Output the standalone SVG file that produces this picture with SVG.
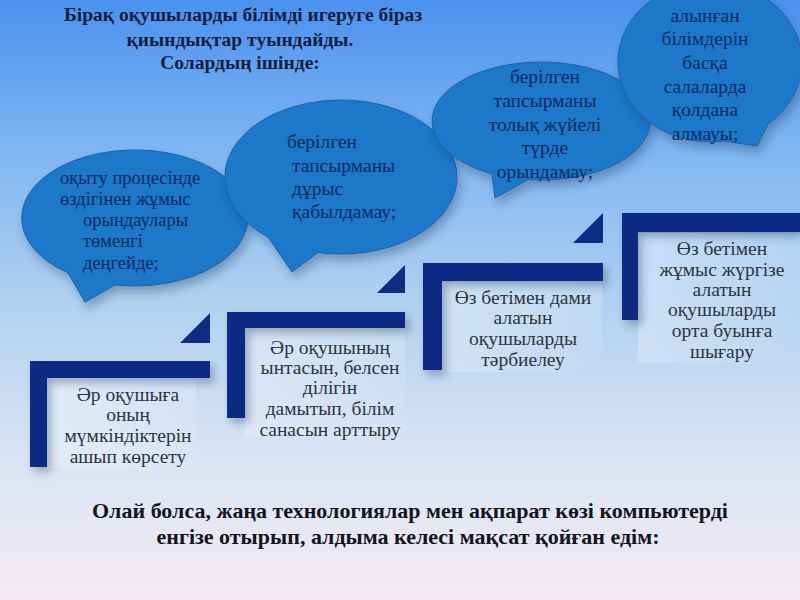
<svg xmlns="http://www.w3.org/2000/svg" width="800" height="600" viewBox="0 0 800 600">
  <defs>
    <linearGradient id="bg" x1="0" y1="0" x2="0" y2="1">
      <stop offset="0" stop-color="#4a92ee"/>
      <stop offset="0.25" stop-color="#7fb6f2"/>
      <stop offset="0.5" stop-color="#b0d0f0"/>
      <stop offset="0.75" stop-color="#d8e4f4"/>
      <stop offset="1" stop-color="#f4eaf2"/>
    </linearGradient>
    <linearGradient id="panel" x1="0" y1="0" x2="1" y2="1">
      <stop offset="0" stop-color="#ffffff" stop-opacity="0.45"/>
      <stop offset="1" stop-color="#ffffff" stop-opacity="0"/>
    </linearGradient>
    <filter id="sh" x="-20%" y="-20%" width="150%" height="150%">
      <feDropShadow dx="3" dy="6" stdDeviation="5" flood-color="#1a3050" flood-opacity="0.35"/>
    </filter>
    <filter id="shs" x="-20%" y="-20%" width="150%" height="150%">
      <feDropShadow dx="4" dy="5" stdDeviation="4" flood-color="#1a3050" flood-opacity="0.35"/>
    </filter>
  </defs>
  <style>
    .bubble { fill: #1e78c8; stroke: #1a62a8; stroke-width: 1; filter: url(#sh); }
    .bar { fill: #0e2c84; filter: url(#shs); }
    .tri { fill: #0e2c84; }
    .btxt { font-family: "Liberation Serif", "DejaVu Serif", serif; font-size: 19.5px; fill: #0f2a5e; }
    .b1 { font-size: 18.5px; }
    .stxt { font-family: "Liberation Serif", "DejaVu Serif", serif; font-size: 19.5px; fill: #2c3440; text-anchor: middle; }
    .title { font-family: "Liberation Serif", "DejaVu Serif", serif; font-weight: bold; font-size: 19.5px; fill: #141c40; text-anchor: middle; }
    .foot { font-family: "Liberation Serif", "DejaVu Serif", serif; font-weight: bold; font-size: 22px; fill: #141420; text-anchor: middle; }
  </style>

  <rect x="0" y="0" width="800" height="600" fill="url(#bg)"/>

  <g id="title">
    <text class="title" x="243" y="21">Бірақ оқушыларды білімді игеруге біраз</text>
    <text class="title" x="240" y="46">қиындықтар туындайды.</text>
    <text class="title" x="240" y="69">Солардың ішінде:</text>
  </g>

  <g id="step1">
    <rect x="46" y="378" width="150" height="90" fill="url(#panel)"/>
    <path class="bar" d="M30,361 H210 V378 H47 V467 H30 Z"/>
    <polygon class="tri" points="210,313 210,343 180,343"/>
    <text class="stxt" x="128" y="401">Әр оқушыға</text>
    <text class="stxt" x="128" y="421">оның</text>
    <text class="stxt" x="128" y="442">мүмкіндіктерін</text>
    <text class="stxt" x="128" y="463">ашып көрсету</text>
  </g>

  <g id="step2">
    <rect x="245" y="327" width="160" height="110" fill="url(#panel)"/>
    <path class="bar" d="M227,312 H405 V328 H245 V418 H227 Z"/>
    <polygon class="tri" points="405,265 405,293 377,293"/>
    <text class="stxt" x="330" y="354">Әр оқушының</text>
    <text class="stxt" x="330" y="374">ынтасын, белсен</text>
    <text class="stxt" x="330" y="394">ділігін</text>
    <text class="stxt" x="330" y="415">дамытып, білім</text>
    <text class="stxt" x="330" y="436">санасын арттыру</text>
  </g>

  <g id="step3">
    <rect x="442" y="282" width="160" height="90" fill="url(#panel)"/>
    <path class="bar" d="M423,263 H603 V281 H442 V370 H423 Z"/>
    <polygon class="tri" points="603,213 603,243 573,243"/>
    <text class="stxt" x="523" y="304">Өз бетімен дами</text>
    <text class="stxt" x="523" y="324">алатын</text>
    <text class="stxt" x="523" y="345">оқушыларды</text>
    <text class="stxt" x="523" y="366">тәрбиелеу</text>
  </g>

  <g id="step4">
    <rect x="638" y="233" width="162" height="130" fill="url(#panel)"/>
    <path class="bar" d="M622,213 H800 V232 H638 V320 H622 Z"/>
    <text class="stxt" x="722" y="255">Өз бетімен</text>
    <text class="stxt" x="722" y="276">жұмыс жүргізе</text>
    <text class="stxt" x="722" y="296">алатын</text>
    <text class="stxt" x="722" y="316">оқушыларды</text>
    <text class="stxt" x="722" y="337">орта буынға</text>
    <text class="stxt" x="722" y="358">шығару</text>
  </g>

  <g id="bubble1">
    <path class="bubble" d="M68,272.8 A113,68 0 1 1 115,284.9 L85,302 Z"/>
    <text class="btxt b1" x="60" y="184">оқыту процесінде</text>
    <text class="btxt b1" x="60" y="205">өздігінен жұмыс</text>
    <text class="btxt b1" x="83" y="226">орындаулары</text>
    <text class="btxt b1" x="83" y="247">төменгі</text>
    <text class="btxt b1" x="83" y="269">деңгейде;</text>
  </g>

  <g id="bubble2">
    <path class="bubble" d="M268,236.9 A116,77 0 1 1 318,252.5 L292,272 Z"/>
    <text class="btxt" x="287" y="148">берілген</text>
    <text class="btxt" x="292" y="172">тапсырманы</text>
    <text class="btxt" x="292" y="195">дұрыс</text>
    <text class="btxt" x="292" y="218">қабылдамау;</text>
  </g>

  <g id="bubble3">
    <path class="bubble" d="M492,173.7 A109,59 0 1 1 528,179.6 L495,198 Z"/>
    <g style="text-anchor: middle">
      <text class="btxt" x="545" y="83">берілген</text>
      <text class="btxt" x="545" y="107">тапсырманы</text>
      <text class="btxt" x="545" y="131">толық жүйелі</text>
      <text class="btxt" x="545" y="154">түрде</text>
      <text class="btxt" x="545" y="178">орындамау;</text>
    </g>
  </g>

  <g id="bubble4">
    <path class="bubble" d="M724,141 A92,80 0 1 1 768,124 L757,146 Z"/>
    <g style="text-anchor: middle">
      <text class="btxt" x="705" y="22">алынған</text>
      <text class="btxt" x="705" y="45">білімдерін</text>
      <text class="btxt" x="705" y="69">басқа</text>
      <text class="btxt" x="705" y="93">салаларда</text>
      <text class="btxt" x="705" y="116">қолдана</text>
      <text class="btxt" x="705" y="140">алмауы;</text>
    </g>
  </g>

  <g id="footer">
    <text class="foot" x="410" y="518">Олай болса, жаңа технологиялар мен ақпарат көзі компьютерді</text>
    <text class="foot" x="408" y="544">енгізе отырып, алдыма келесі мақсат қойған едім:</text>
  </g>
</svg>
